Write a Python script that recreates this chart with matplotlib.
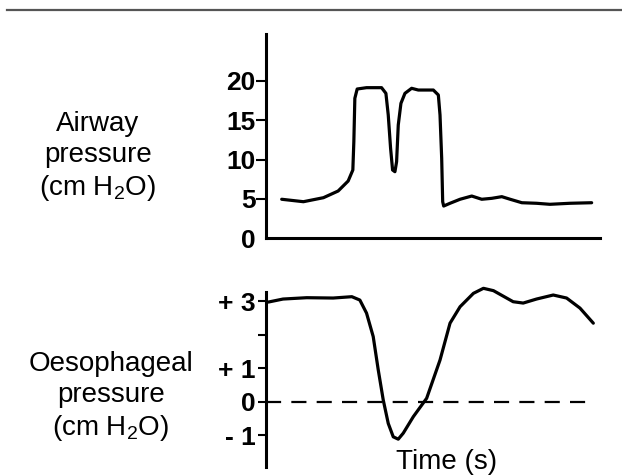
import matplotlib
matplotlib.use("Agg")
import matplotlib.pyplot as plt
from matplotlib.lines import Line2D

plt.rcParams['font.family'] = ['Liberation Sans', 'DejaVu Sans']
plt.rcParams['mathtext.fontset'] = 'custom'
plt.rcParams['mathtext.rm'] = 'Liberation Sans'
plt.rcParams['mathtext.it'] = 'Liberation Sans:italic'

# airway pressure trace (time in arbitrary units, cm H2O)
t_air = [0.47, 1.12, 1.72, 2.16, 2.46, 2.60, 2.63, 2.66, 2.73, 3.01, 3.46, 3.59,
         3.66, 3.73, 3.79, 3.86, 3.91, 3.96, 4.04, 4.16, 4.36, 4.56, 5.01, 5.16,
         5.21, 5.26, 5.29, 5.32, 5.51, 5.81, 6.16, 6.46, 6.76, 7.06, 7.31, 7.66,
         8.10, 8.50, 9.10, 9.75]
p_air = [4.96, 4.65, 5.16, 6.01, 7.28, 8.68, 12.27, 17.79, 18.97, 19.14, 19.14, 18.42,
         15.67, 11.44, 8.68, 8.46, 9.73, 14.40, 17.15, 18.42, 19.06, 18.84, 18.84, 18.21,
         15.67, 10.17, 4.65, 4.10, 4.45, 4.96, 5.37, 4.96, 5.08, 5.29, 4.96, 4.52,
         4.45, 4.32, 4.45, 4.52]

# oesophageal pressure trace
t_oes = [0.07, 0.51, 1.22, 2.01, 2.57, 2.81, 3.01, 3.21, 3.36, 3.51, 3.66, 3.81,
         3.96, 4.11, 4.41, 4.81, 5.21, 5.51, 5.81, 6.21, 6.51, 6.81, 7.40, 7.70,
         8.10, 8.60, 9.00, 9.40, 9.80]
p_oes = [2.98, 3.07, 3.11, 3.10, 3.14, 3.04, 2.65, 1.95, 0.96, 0.06, -0.64, -1.04,
         -1.11, -0.93, -0.44, 0.11, 1.25, 2.35, 2.84, 3.24, 3.39, 3.32, 2.99, 2.95,
         3.07, 3.19, 3.10, 2.80, 2.35]

air_ticks = [0, 5, 10, 15, 20]
air_labels = ['0', '5', '10', '15', '20']
oes_ticks = [3, 2, 1, 0, -1]
oes_labels = ['+ 3', '', '+ 1', '0', '- 1']
zero_end = 9.85

fig = plt.figure(figsize=(6.22, 4.76), dpi=100)
W, H = 622.0, 476.0

line_kw = dict(color='black', lw=2.3, solid_joinstyle='round',
               solid_capstyle='round', clip_on=False)

# top panel
ax1 = fig.add_axes([266/W, 1-238.3/H, 334/W, 204.3/H])
ax1.plot(t_air, p_air, **line_kw)
ax1.set_xlim(0, 10)
ax1.set_ylim(0, 25.96)
ax1.spines['top'].set_visible(False)
ax1.spines['right'].set_visible(False)
for s in ['left', 'bottom']:
    ax1.spines[s].set_linewidth(2.2)
ax1.set_xticks([])
ax1.set_yticks(air_ticks, air_labels)
ax1.tick_params(axis='y', length=7, width=1.5, pad=0.5, labelsize=19)
for lab in ax1.get_yticklabels():
    lab.set_fontweight('bold')
ax1.yaxis.get_major_ticks()[0].tick1line.set_visible(False)

# bottom panel
ax2 = fig.add_axes([266/W, 1-467/H, 334/W, 175/H])
ax2.plot(t_oes, p_oes, **line_kw)
ax2.hlines(0, 0, zero_end, colors='black', lw=1.6, linestyles=(0, (6.8, 4.6)))
ax2.set_xlim(0, 10)
ax2.set_ylim(-1.94, 3.28)
for s in ['top', 'right', 'bottom']:
    ax2.spines[s].set_visible(False)
ax2.spines['left'].set_linewidth(2.2)
ax2.set_xticks([])
ax2.set_yticks(oes_ticks, oes_labels)
ax2.tick_params(axis='y', length=6, width=1.5, pad=1.5, labelsize=19)
for lab in ax2.get_yticklabels():
    lab.set_fontweight('bold')

# labels
fig.text(98/W, 1-157/H, 'Airway\npressure\n(cm H$_2$O)', ha='center', va='center',
         multialignment='center', fontsize=20, linespacing=1.25)
fig.text(111/W, 1-397/H, 'Oesophageal\npressure\n(cm H$_2$O)', ha='center', va='center',
         multialignment='center', fontsize=20, linespacing=1.25)
fig.text(447/W, 1-469/H, 'Time (s)', ha='center', va='baseline', fontsize=20)

# rule at the top
fig.add_artist(Line2D([7/W, 1], [1-10/H, 1-10/H], transform=fig.transFigure,
                      color='#555555', lw=1.6))

fig.savefig('out.png', dpi=100)
